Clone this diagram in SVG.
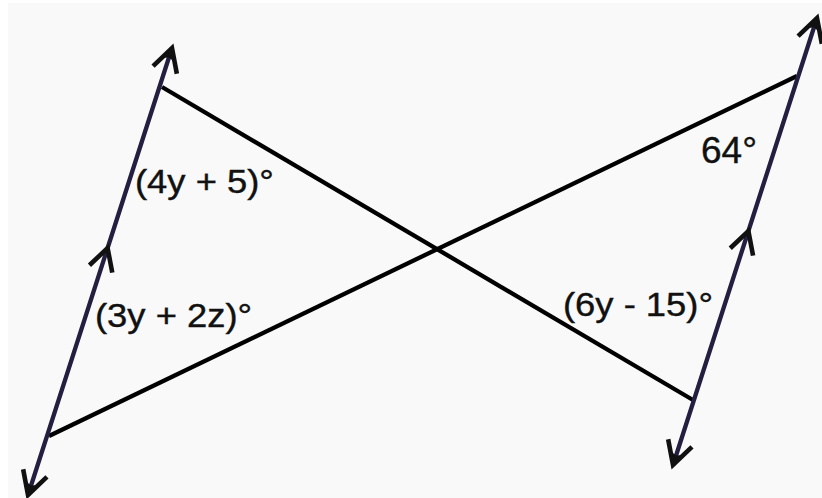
<svg xmlns="http://www.w3.org/2000/svg" width="822" height="498" viewBox="0 0 822 498">
<style>
.par{fill:none;stroke:#241f40;stroke-width:4.3;stroke-linecap:butt}
.tr{fill:none;stroke:#000;stroke-width:4.3;stroke-linecap:butt}
.lbl{font-family:"Liberation Sans",Arial,Helvetica,sans-serif;font-size:34px;fill:#111;stroke:#111;stroke-width:0.4}
.big{font-size:37px}
.head{fill:none;stroke:#111;stroke-width:4.6;stroke-linejoin:miter}
</style>
<defs>
<marker id="chev" markerUnits="userSpaceOnUse" orient="auto" refX="0" refY="0" markerWidth="1" markerHeight="1" overflow="visible">
<path class="head" d="M-22,-12 L0,0 L-22,12"/>
</marker>
<marker id="arrow" markerUnits="userSpaceOnUse" orient="auto-start-reverse" refX="0" refY="0" markerWidth="1" markerHeight="1" overflow="visible">
<path class="head" stroke-width="5.2" d="M-23,-12.5 L0,0 L-23,12.5"/>
<path d="M1,0 L-13,-8 L-10,0 L-13,8 Z" fill="#111"/>
</marker>
</defs>
<rect width="822" height="498" fill="#ffffff"/>
<rect x="8" y="3" width="814" height="495" fill="#f9f9f9"/>
<g id="connectors">
<path id="transversal1" class="tr" d="M162,87 L693,400"/>
<path id="transversal2" class="tr" d="M49,436 L797,76"/>
<path id="parallel-left" class="par" d="M28,495 L107.6,248 L172,48" marker-start="url(#arrow)" marker-mid="url(#chev)" marker-end="url(#arrow)"/>
<path id="parallel-right" class="par" d="M673,465 L748.4,231 L817,18" marker-start="url(#arrow)" marker-mid="url(#chev)" marker-end="url(#arrow)"/>
</g>
<g id="label-4y5"><text class="lbl" transform="translate(135,193) scale(1.07,1)">(4y + 5)°</text></g>
<g id="label-3y2z"><text class="lbl" transform="translate(95,327) scale(1.07,1)">(3y + 2z)°</text></g>
<g id="label-6y15"><text class="lbl" transform="translate(563,316) scale(1.07,1)">(6y - 15)°</text></g>
<g id="label-64"><text class="lbl big" x="701" y="163">64°</text></g>
</svg>
